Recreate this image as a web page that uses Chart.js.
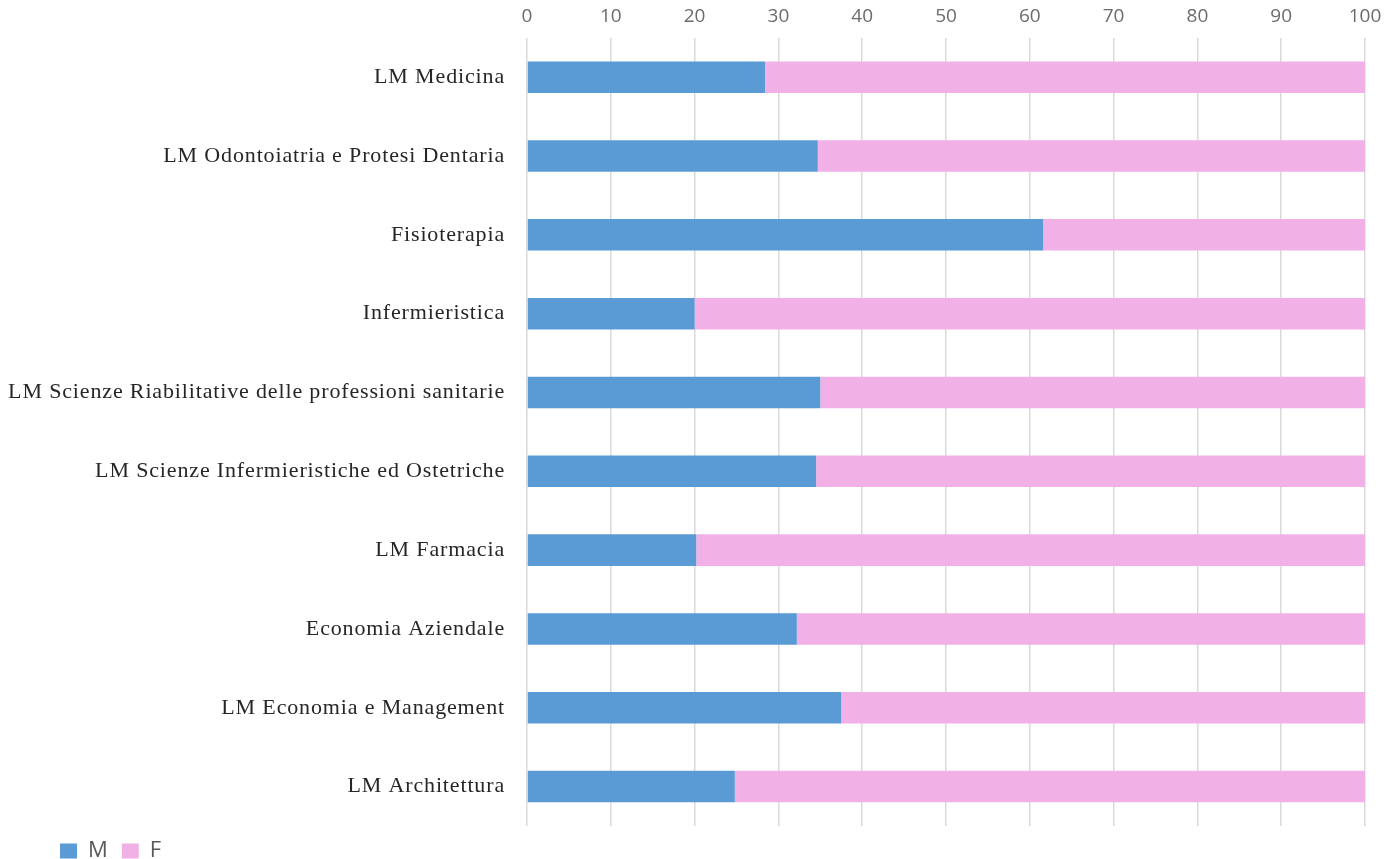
<!DOCTYPE html>
<html>
<head>
<meta charset="UTF-8">
<title>M / F per corso di laurea</title>
<script src="https://cdn.jsdelivr.net/npm/chart.js@4/dist/chart.umd.min.js"></script>
<style>
	html, body { margin: 0; padding: 0; background: #fff; }
	#container { width: 1397px; height: 859px; }
</style>
</head>
<body>
<div id="container">
	<canvas id="barcanvas"></canvas>
</div>
<script>
var corsi = [
	'LM Medicina',
	'LM Odontoiatria e Protesi Dentaria',
	'Fisioterapia',
	'Infermieristica',
	'LM Scienze Riabilitative delle professioni sanitarie',
	'LM Scienze Infermieristiche ed Ostetriche',
	'LM Farmacia',
	'Economia Aziendale',
	'LM Economia e Management',
	'LM Architettura'
];
// percentuale maschi / femmine
var maschi  = [28.4, 34.7, 61.6, 20.0, 35.0, 34.5, 20.2, 32.2, 37.5, 24.8];
var femmine = [71.6, 65.3, 38.4, 80.0, 65.0, 65.5, 79.8, 67.8, 62.5, 75.2];
var xTicks = [0, 10, 20, 30, 40, 50, 60, 70, 80, 90, 100];

// etichette dell'asse y un po' spaziate, come nell'originale
var spacedLabels = {
	id: 'spacedLabels',
	afterLayout: function(chart) {
		var y = chart.scales.y;
		if (y._spaced) return;
		var orig = y.drawLabels;
		y._computeLabelArea = function() { return null; }; // niente clip sulle etichette lunghe
		y.drawLabels = function(area) {
			chart.ctx.save();
			chart.ctx.letterSpacing = '0.85px';
			orig.call(y, area);
			chart.ctx.restore();
		};
		y._spaced = true;
	}
};

var ctx = document.getElementById('barcanvas').getContext('2d');
window.myBar = new Chart(ctx, {
	type: 'bar',
	data: {
		labels: corsi,
		datasets: [{
			label: 'M',
			backgroundColor: '#5b9bd5',
			data: maschi,
			categoryPercentage: 0.4,
			barPercentage: 1.0
		}, {
			label: 'F',
			backgroundColor: '#f2b1e6',
			data: femmine,
			categoryPercentage: 0.4,
			barPercentage: 1.0
		}]
	},
	options: {
		indexAxis: 'y',
		responsive: true,
		maintainAspectRatio: false,
		animation: false,
		layout: { padding: { left: 46, right: 32, top: -5, bottom: -13 } },
		scales: {
			x: {
				position: 'top',
				stacked: true,
				min: 0,
				max: 100,
				afterBuildTicks: function(scale) {
					scale.ticks = xTicks.map(function(v) { return { value: v }; });
				},
				grid: { color: '#d9d9d9', lineWidth: 1.5, drawTicks: false },
				border: { display: false },
				ticks: {
					padding: 10,
					color: '#6b6b6b',
					font: { family: '"Open Sans", sans-serif', size: 19 }
				}
			},
			y: {
				stacked: true,
				grid: { display: false },
				border: { display: false },
				afterFit: function(scale) { scale.width = 481; },
				ticks: {
					padding: 14,
					color: '#262626',
					font: { family: '"Liberation Serif", serif', size: 22 }
				}
			}
		},
		plugins: {
			legend: {
				position: 'bottom',
				align: 'start',
				labels: {
					boxWidth: 17,
					boxHeight: 15,
					padding: 14,
					color: '#595959',
					font: { family: '"Open Sans", sans-serif', size: 22 }
				}
			},
			tooltip: { enabled: false }
		}
	},
	plugins: [spacedLabels]
});
</script>
</body>
</html>
